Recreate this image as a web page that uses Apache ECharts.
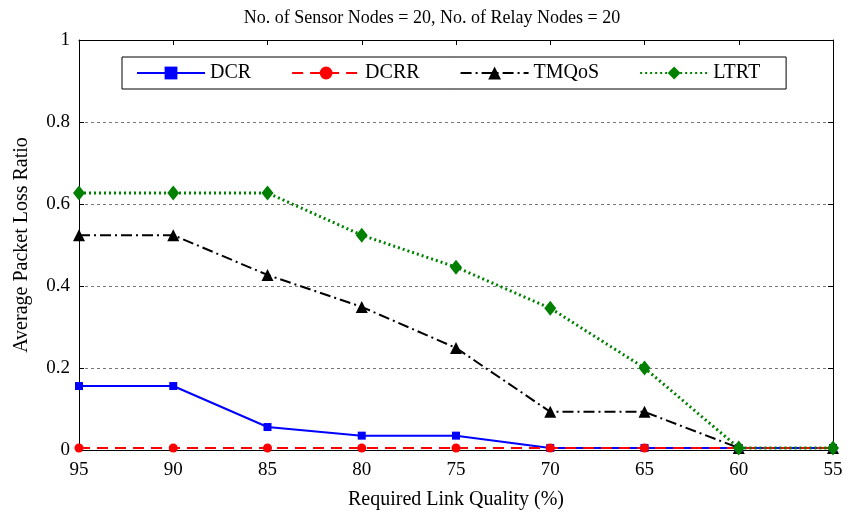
<!DOCTYPE html>
<html>
<head>
<meta charset="utf-8">
<script src="https://cdn.jsdelivr.net/npm/echarts@6/dist/echarts.min.js"></script>
<style>
  html, body { margin: 0; padding: 0; background: #fff; }
  #chart { width: 852px; height: 516px; }
</style>
</head>
<body>
<div id="chart"></div>
<script>
var linkQuality = ['95', '90', '85', '80', '75', '70', '65', '60', '55'];
var dcr   = [0.156, 0.156, 0.056, 0.035, 0.035, 0.005, 0.005, 0.005, 0.005];
var dcrr  = [0.005, 0.005, 0.005, 0.005, 0.005, 0.005, 0.005, 0.005, 0.005];
var tmqos = [0.524, 0.524, 0.427, 0.349, 0.249, 0.093, 0.093, 0.005, 0.005];
var ltrt  = [0.627, 0.627, 0.627, 0.524, 0.446, 0.346, 0.2, 0.005, 0.005];

var font = 'Liberation Serif';
var chart = echarts.init(document.getElementById('chart'));

// axis used only to draw the box and inward ticks
function frameAxis(pos) {
  return {
    position: pos,
    axisLine: { show: true, onZero: false, lineStyle: { color: '#000', width: 1 } },
    axisTick: { show: true, inside: true, length: 5, lineStyle: { color: '#000' } },
    axisLabel: { show: false },
    splitLine: { show: false }
  };
}

chart.setOption({
  animation: false,
  backgroundColor: '#fff',
  title: {
    text: 'No. of Sensor Nodes = 20, No. of Relay Nodes = 20',
    left: 427, top: 4, textAlign: 'center',
    textStyle: { fontFamily: font, fontSize: 18, fontWeight: 'normal', color: '#000' }
  },
  grid: { left: 79, right: 19, top: 40, bottom: 66, outerBoundsMode: 'none', containLabel: false },
  legend: {
    left: 122, top: 57,
    padding: [5, 26, 5, 14],
    borderColor: '#000', borderWidth: 1,
    itemWidth: 68, itemHeight: 16, itemGap: 40,
    textStyle: { fontFamily: font, fontSize: 20, color: '#000', lineHeight: 22 },
    data: ['DCR', 'DCRR', 'TMQoS', 'LTRT']
  },
  xAxis: [
    Object.assign(frameAxis('bottom'), {
      type: 'category', boundaryGap: false, data: linkQuality,
      name: 'Required Link Quality (%)', nameLocation: 'middle', nameGap: 40,
      nameTextStyle: { fontFamily: font, fontSize: 20, color: '#000' },
      axisLabel: { show: true, fontFamily: font, fontSize: 19, color: '#000', margin: 11 }
    }),
    Object.assign(frameAxis('top'), {
      type: 'category', boundaryGap: false, data: linkQuality
    })
  ],
  yAxis: [
    Object.assign(frameAxis('left'), {
      type: 'value', min: 0, max: 1, interval: 0.2,
      name: 'Average Packet Loss Ratio', nameLocation: 'middle', nameGap: 47,
      nameTextStyle: { fontFamily: font, fontSize: 20, color: '#000' },
      axisLabel: { show: true, fontFamily: font, fontSize: 19, color: '#000', margin: 9,
        formatter: function (v) { return String(Math.round(v * 10) / 10); } },
      splitLine: { show: true, showMaxLine: false, lineStyle: { color: '#777', type: [3, 3], width: 1 } }
    }),
    Object.assign(frameAxis('right'), {
      type: 'value', min: 0, max: 1, interval: 0.2
    })
  ],
  series: [
    {
      name: 'DCR', type: 'line', data: dcr,
      symbol: 'rect', symbolSize: 8,
      itemStyle: { color: '#0000ff' },
      lineStyle: { color: '#0000ff', width: 2 }, z: 3
    },
    {
      name: 'DCRR', type: 'line', data: dcrr,
      symbol: 'circle', symbolSize: 9,
      itemStyle: { color: '#ff0000' },
      lineStyle: { color: '#ff0000', width: 2, type: [11, 7] }, z: 4
    },
    {
      name: 'TMQoS', type: 'line', data: tmqos,
      symbol: 'triangle', symbolSize: 12,
      itemStyle: { color: '#000' },
      lineStyle: { color: '#000', width: 2, type: [11, 4, 2, 4] }, z: 2
    },
    {
      name: 'LTRT', type: 'line', data: ltrt,
      symbol: 'diamond', symbolSize: [12, 15],
      itemStyle: { color: '#008000' },
      lineStyle: { color: '#008000', width: 3, type: [2, 3] }, z: 5
    }
  ]
});
</script>
</body>
</html>
